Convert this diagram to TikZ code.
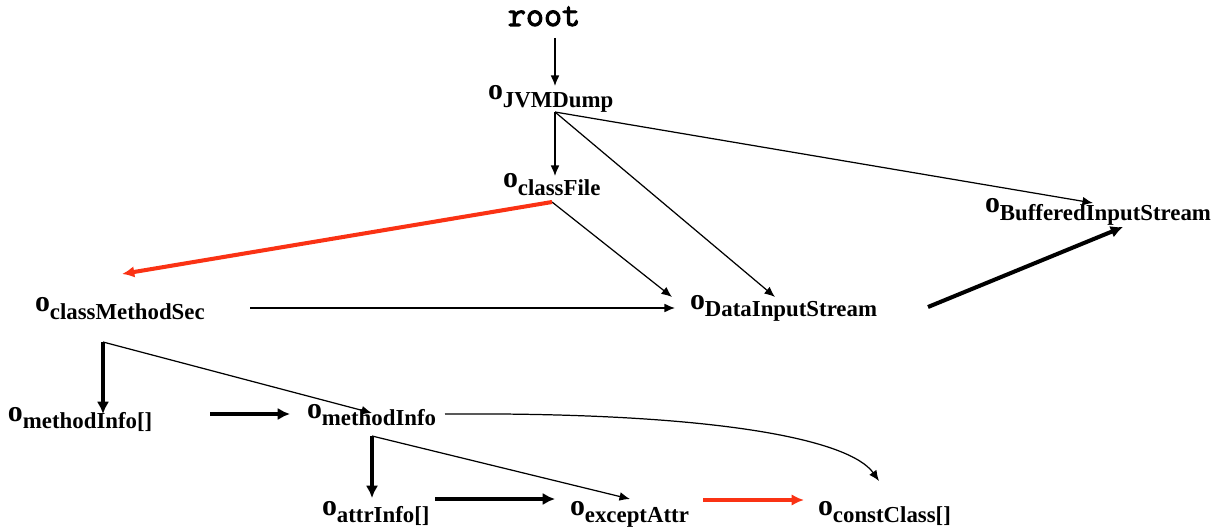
\documentclass[tikz,border=0pt]{standalone}
\usepackage{fontspec}
\setmainfont{Liberation Serif}
\newfontfamily\rootfont[FakeBold=3]{Latin Modern Mono}
\usetikzlibrary{arrows.meta}
\definecolor{redarr}{RGB}{250,50,20}
\newcommand{\ob}[1]{{\fontsize{17}{17}\selectfont o}\raisebox{-4.5pt}{\fontsize{13}{13}\selectfont #1}}
\tikzset{
  lab/.style={anchor=base west, inner sep=0pt, outer sep=0pt, font=\bfseries},
  thin/.style={line width=0.7pt, -{Latex[length=6pt,width=5pt]}},
  thick/.style={line width=2.3pt, -{Latex[length=7pt,width=7pt]}},
  reda/.style={line width=2.3pt, draw=redarr, -{Latex[length=7pt,width=6.5pt]}},
}
\begin{document}
\begin{tikzpicture}[x=0.02cm, y=-0.02cm]
\useasboundingbox (0,0) rectangle (1225,527);
% nodes
\node[anchor=base, inner sep=0pt, font=\rootfont\fontsize{20}{20}\selectfont] (root) at (544,26) {root};
\node[lab] (jvm) at (488,100) {\ob{JVMDump}};
\node[lab] (cf) at (503,188) {\ob{classFile}};
\node[lab] (bis) at (985,213) {\ob{BufferedInputStream}};
\node[lab] (dis) at (690,309) {\ob{DataInputStream}};
\node[lab] (cms) at (35,312) {\ob{classMethodSec}};
\node[lab] (mia) at (8,421) {\ob{methodInfo[]}};
\node[lab] (mi) at (307,418) {\ob{methodInfo}};
\node[lab] (ai) at (322,515) {\ob{attrInfo[]}};
\node[lab] (ea) at (570,515) {\ob{exceptAttr}};
\node[lab] (cc) at (818,515) {\ob{constClass[]}};
% ports
\coordinate (rootS) at (555,38);
\coordinate (jvmN) at (555,86);
\coordinate (jvmS) at (555,112);
\coordinate (cfN) at (555,176);
\coordinate (cfS) at (552,202);
\coordinate (cmsR) at (250,308);
\coordinate (cmsT) at (122,274);
\coordinate (cmsS) at (103,342);
\coordinate (disL) at (675,308);
\coordinate (disT1) at (672,297);
\coordinate (disT2) at (775,297);
\coordinate (disR) at (928,307);
\coordinate (bisT1) at (1093,203);
\coordinate (bisT2) at (1123,227);
\coordinate (miaT) at (103,414);
\coordinate (miaR) at (210,414);
\coordinate (miL) at (290,414);
\coordinate (miT) at (372,413);
\coordinate (miS) at (372,436);
\coordinate (miR) at (445,414);
\coordinate (aiT) at (372,498);
\coordinate (aiR) at (435,499);
\coordinate (eaL) at (555,499);
\coordinate (eaT) at (630,499);
\coordinate (eaR) at (703,500);
\coordinate (ccL) at (804,500);
\coordinate (ccT) at (879,481);
% connectors
\draw[thin] (rootS) -- (jvmN);
\draw[thin] (jvmS) -- (cfN);
\draw[thin] (jvmS) -- (disT2);
\draw[thin] (jvmS) -- (bisT1);
\draw[thin] (cfS) -- (disT1);
\draw[reda] (cfS) -- (cmsT);
\draw[thin] (cmsR) -- (disL);
\draw[thick] (disR) -- (bisT2);
\draw[thick, line width=2.6pt] (cmsS) -- (miaT);
\draw[thin] (cmsS) -- (miT);
\draw[thick] (miaR) -- (miL);
\draw[thick, line width=2.6pt] (miS) -- (aiT);
\draw[thin] (miS) -- (eaT);
\draw[thin] (miR) .. controls (720,412) and (850,440) .. (ccT);
\draw[thick] (aiR) -- (eaL);
\draw[reda, line width=2pt] (eaR) -- (ccL);
\end{tikzpicture}
\end{document}
